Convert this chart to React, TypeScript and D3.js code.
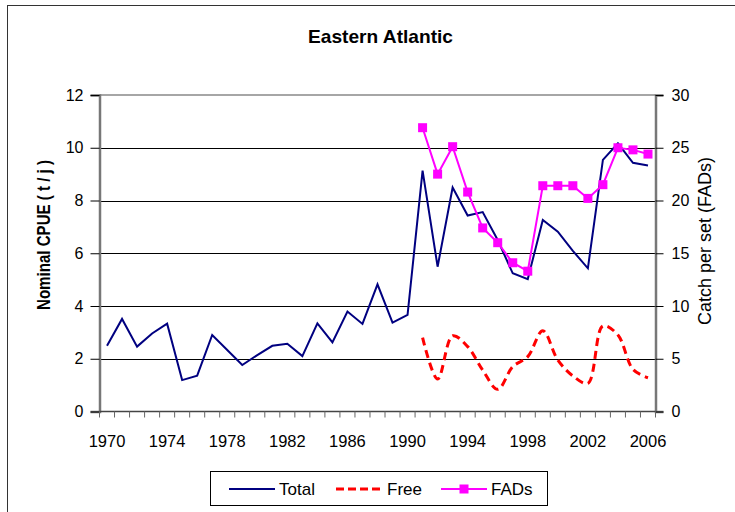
import React, { useEffect, useRef } from 'react';
import * as d3 from 'd3';

const years = d3.range(1970, 2007);
const tickYears = [1970, 1974, 1978, 1982, 1986, 1990, 1994, 1998, 2002, 2006];

// Nominal CPUE (t/j), left axis
const total = [
  2.49, 3.51, 2.46, 2.96, 3.33, 1.19, 1.36, 2.9, 2.33, 1.76,
  2.14, 2.49, 2.57, 2.1, 3.34, 2.62, 3.79, 3.32, 4.82, 3.37,
  3.66, 9.13, 5.49, 8.49, 7.43, 7.56, 6.5, 5.24, 5.02, 7.26,
  6.82, 6.09, 5.43, 9.54, 10.17, 9.43, 9.33,
];

const freeYears = d3.range(1991, 2007);
const free = [2.8, 1.23, 2.87, 2.46, 1.57, 0.84, 1.7, 2.08, 3.06, 1.95, 1.35, 1.07, 3.24, 2.9, 1.6, 1.28];

// Catch per set (FADs), right axis
const fadYears = d3.range(1991, 2007);
const fads = [26.9, 22.5, 25.1, 20.8, 17.4, 16.0, 14.1, 13.3, 21.4, 21.4, 21.4, 20.2, 21.5, 25.0, 24.8, 24.4];

const leftTicks = [0, 2, 4, 6, 8, 10, 12];
const rightTicks = [0, 5, 10, 15, 20, 25, 30];

const W = 735;
const H = 512;
const FONT = 'Arial, "Liberation Sans", sans-serif';

const App: React.FC = () => {
  const svgRef = useRef<SVGSVGElement>(null);

  useEffect(() => {
    if (!svgRef.current) return;
    const svg = d3.select(svgRef.current);
    svg.selectAll('*').remove();

    const left = 99.5;
    const right = 655.5;
    const top = 95;
    const bottom = 411.5;

    const x = d3.scaleBand<number>().domain(years).range([left, right]);
    const cx = (yr: number) => (x(yr) as number) + x.bandwidth() / 2;
    const yL = d3.scaleLinear().domain([0, 12]).range([bottom, top]);
    const yR = d3.scaleLinear().domain([0, 30]).range([bottom, top]);

    // outer frame
    svg.append('rect')
      .attr('x', 7.5).attr('y', 5.5)
      .attr('width', W).attr('height', H)
      .attr('fill', 'none').attr('stroke', '#333').attr('stroke-width', 1);

    // title
    svg.append('text')
      .attr('x', 380.5).attr('y', 43)
      .attr('text-anchor', 'middle')
      .attr('textLength', 145).attr('lengthAdjust', 'spacingAndGlyphs')
      .style('font-family', FONT).style('font-size', '19px').style('font-weight', 'bold')
      .text('Eastern Atlantic');

    // gridlines
    svg.append('g')
      .selectAll('line')
      .data(leftTicks.filter(d => d > 0 && d < 12))
      .enter().append('line')
      .attr('x1', left).attr('x2', right)
      .attr('y1', d => Math.round(yL(d)) + 0.5).attr('y2', d => Math.round(yL(d)) + 0.5)
      .attr('stroke', '#000').attr('stroke-width', 1);

    // plot frame top
    svg.append('line')
      .attr('x1', left).attr('x2', right).attr('y1', top).attr('y2', top)
      .attr('stroke', '#888').attr('stroke-width', 1.5);

    // left axis
    const gL = svg.append('g').attr('transform', `translate(${left},0)`);
    gL.call(d3.axisLeft(yL).tickValues(leftTicks).tickSize(9).tickPadding(7).tickFormat(d3.format('d')));
    gL.select('.domain').attr('stroke', '#777').attr('stroke-width', 2.5);
    gL.selectAll('.tick line').attr('stroke', '#000');
    gL.selectAll('text').style('font-family', FONT).style('font-size', '16px').attr('fill', '#000');

    // right axis
    const gR = svg.append('g').attr('transform', `translate(${right},0)`);
    gR.call(d3.axisRight(yR).tickValues(rightTicks).tickSize(8).tickPadding(8).tickFormat(d3.format('d')));
    gR.select('.domain').attr('stroke', '#777').attr('stroke-width', 2.5);
    gR.selectAll('.tick line').attr('stroke', '#000');
    gR.selectAll('text').style('font-family', FONT).style('font-size', '16px').attr('fill', '#000');

    // bottom axis: minor ticks at category boundaries
    const gB = svg.append('g');
    gB.append('line')
      .attr('x1', left).attr('x2', right).attr('y1', bottom).attr('y2', bottom)
      .attr('stroke', '#444').attr('stroke-width', 1.5);
    const bounds = years.map(yr => x(yr) as number).concat([right]);
    gB.selectAll('line.tk')
      .data(bounds)
      .enter().append('line')
      .attr('class', 'tk')
      .attr('x1', d => d).attr('x2', d => d)
      .attr('y1', bottom).attr('y2', bottom + 6)
      .attr('stroke', '#666').attr('stroke-width', 1);
    gB.selectAll('text')
      .data(tickYears)
      .enter().append('text')
      .attr('x', d => cx(d)).attr('y', 447)
      .attr('text-anchor', 'middle')
      .style('font-family', FONT).style('font-size', '16.5px')
      .text(d => String(d));

    // axis titles
    svg.append('text')
      .attr('transform', `translate(50,235) rotate(-90)`)
      .attr('text-anchor', 'middle')
      .attr('textLength', 150).attr('lengthAdjust', 'spacingAndGlyphs')
      .style('font-family', FONT).style('font-size', '18px').style('font-weight', 'bold')
      .text('Nominal CPUE ( t / j )');
    svg.append('text')
      .attr('transform', `translate(711,241) rotate(-90)`)
      .attr('text-anchor', 'middle')
      .style('font-family', FONT).style('font-size', '18px')
      .text('Catch per set (FADs)');

    // series
    const totalLine = d3.line<number>().x((_, i) => cx(years[i])).y(d => yL(d));
    svg.append('path')
      .datum(total)
      .attr('d', totalLine)
      .attr('fill', 'none').attr('stroke', '#000080').attr('stroke-width', 2);

    const freeLine = d3.line<number>()
      .x((_, i) => cx(freeYears[i])).y(d => yL(d))
      .curve(d3.curveCatmullRom.alpha(0.5));
    svg.append('path')
      .datum(free)
      .attr('d', freeLine)
      .attr('fill', 'none').attr('stroke', '#FF0000').attr('stroke-width', 3)
      .attr('stroke-dasharray', '8,5');

    const fadLine = d3.line<number>().x((_, i) => cx(fadYears[i])).y(d => yR(d));
    svg.append('path')
      .datum(fads)
      .attr('d', fadLine)
      .attr('fill', 'none').attr('stroke', '#FF00FF').attr('stroke-width', 2);
    svg.append('g')
      .selectAll('rect')
      .data(fads)
      .enter().append('rect')
      .attr('x', (_, i) => cx(fadYears[i]) - 4.5)
      .attr('y', d => yR(d) - 4.5)
      .attr('width', 9).attr('height', 9)
      .attr('fill', '#FF00FF');

    // legend
    const lg = svg.append('g');
    lg.append('rect')
      .attr('x', 210.5).attr('y', 471.5).attr('width', 337).attr('height', 34)
      .attr('fill', '#fff').attr('stroke', '#000').attr('stroke-width', 1);
    const ly = 489;
    lg.append('line').attr('x1', 229).attr('x2', 275).attr('y1', ly).attr('y2', ly)
      .attr('stroke', '#000080').attr('stroke-width', 2);
    lg.append('line').attr('x1', 336).attr('x2', 382).attr('y1', ly).attr('y2', ly)
      .attr('stroke', '#FF0000').attr('stroke-width', 3).attr('stroke-dasharray', '8,4');
    lg.append('line').attr('x1', 441).attr('x2', 487).attr('y1', ly).attr('y2', ly)
      .attr('stroke', '#FF00FF').attr('stroke-width', 2);
    lg.append('rect').attr('x', 459.5).attr('y', ly - 4.5).attr('width', 9).attr('height', 9)
      .attr('fill', '#FF00FF');
    const labels: [number, string][] = [[279, 'Total'], [387, 'Free'], [491, 'FADs']];
    lg.selectAll('text.lbl')
      .data(labels)
      .enter().append('text')
      .attr('class', 'lbl')
      .attr('x', d => d[0]).attr('y', 495)
      .style('font-family', FONT).style('font-size', '17px')
      .text(d => d[1]);
  }, []);

  return (
    <svg
      ref={svgRef}
      width={W}
      height={H}
      viewBox={`0 0 ${W} ${H}`}
      style={{ position: 'absolute', left: 0, top: 0, background: '#fff' }}
    />
  );
};

export default App;
